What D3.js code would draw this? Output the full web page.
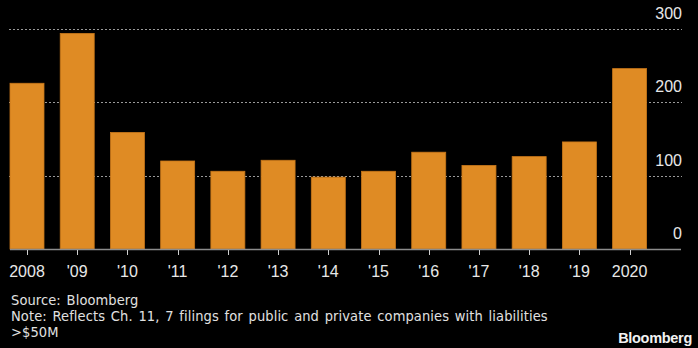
<!DOCTYPE html>
<html>
<head>
<meta charset="utf-8">
<script src="https://cdn.jsdelivr.net/npm/d3@7"></script>
<style>
  html, body { margin: 0; padding: 0; background: #000; }
  #chart { width: 698px; height: 348px; }
  text { font-family: "Liberation Sans", Arial, sans-serif; }
  .note { font-family: "DejaVu Sans Condensed", "DejaVu Sans", sans-serif; font-stretch: condensed; letter-spacing: 0.1px; word-spacing: 1.5px; }
</style>
</head>
<body>
<div id="chart"></div>
<script>
// bankruptcy filings per year
let years = ['2008', "'09", "'10", "'11", "'12", "'13", "'14", "'15", "'16", "'17", "'18", "'19", '2020'];
let filings = [226, 294, 159, 120, 106, 121, 98, 106, 132, 114, 126, 146, 246];
let yTicks = [0, 100, 200, 300];
let notes = [
    'Source: Bloomberg',
    'Note: Reflects Ch. 11, 7 filings for public and private companies with liabilities',
    '>$50M'
];

let width = 698;
let height = 348;

let svg = d3.select('#chart').append('svg')
    .attr('width', width)
    .attr('height', height);

svg.append('rect')
    .attr('width', width)
    .attr('height', height)
    .attr('fill', '#000');

let x = d3.scaleBand()
    .domain(years)
    .range([10, 646.6])
    .paddingInner(0.323)
    .paddingOuter(0);

let y = d3.scaleLinear()
    .domain([0, 300])
    .range([249, 29]);

// dotted gridlines behind the bars
svg.append('g')
    .selectAll('line')
    .data(yTicks.filter(d => d > 0))
    .enter()
    .append('line')
    .attr('x1', 9)
    .attr('x2', 682)
    .attr('y1', d => Math.round(y(d)) + 0.5)
    .attr('y2', d => Math.round(y(d)) + 0.5)
    .attr('stroke', '#9a9a9a')
    .attr('stroke-width', 1)
    .attr('stroke-dasharray', '2,2');

// y labels on the right, sitting above their gridline
svg.append('g')
    .selectAll('text')
    .data(yTicks)
    .enter()
    .append('text')
    .attr('x', 682)
    .attr('y', d => y(d) - 10)
    .attr('text-anchor', 'end')
    .attr('fill', '#e8e8e8')
    .style('font-size', '16px')
    .text(d => d);

svg.append('g')
    .selectAll('rect')
    .data(filings)
    .enter()
    .append('rect')
    .attr('x', (d, i) => x(years[i]))
    .attr('y', d => y(d))
    .attr('width', x.bandwidth())
    .attr('height', d => y(0) - y(d))
    .attr('fill', '#df8b24')
    .attr('stroke', '#c67619')
    .attr('stroke-width', 0.8);

// baseline and ticks
let xAxis = svg.append('g').attr('transform', 'translate(0,249)');

xAxis.append('line')
    .attr('x1', 10)
    .attr('x2', 681)
    .attr('y1', 0.5)
    .attr('y2', 0.5)
    .attr('stroke', '#8c8c8c')
    .attr('stroke-width', 1.5);

xAxis.selectAll('.tick')
    .data(years)
    .enter()
    .append('line')
    .attr('class', 'tick')
    .attr('x1', d => Math.round(x(d) + x.bandwidth() / 2) + 0.5)
    .attr('x2', d => Math.round(x(d) + x.bandwidth() / 2) + 0.5)
    .attr('y1', 1)
    .attr('y2', 6)
    .attr('stroke', '#d0d0d0')
    .attr('stroke-width', 1);

xAxis.selectAll('.label')
    .data(years)
    .enter()
    .append('text')
    .attr('class', 'label')
    .attr('x', d => x(d) + x.bandwidth() / 2)
    .attr('y', 28)
    .attr('text-anchor', 'middle')
    .attr('fill', '#e8e8e8')
    .style('font-size', '16px')
    .text(d => d);

// source and note
svg.append('g')
    .selectAll('text')
    .data(notes)
    .enter()
    .append('text')
    .attr('class', 'note')
    .attr('x', 11)
    .attr('y', (d, i) => 305 + i * 16)
    .attr('fill', '#e0e0e0')
    .style('font-size', '14.5px')
    .text(d => d);

svg.append('text')
    .attr('x', 692)
    .attr('y', 343)
    .attr('text-anchor', 'end')
    .attr('fill', '#f2f2f2')
    .style('font-size', '14.5px')
    .style('font-weight', 'bold')
    .style('letter-spacing', '-0.3px')
    .text('Bloomberg');
</script>
</body>
</html>
